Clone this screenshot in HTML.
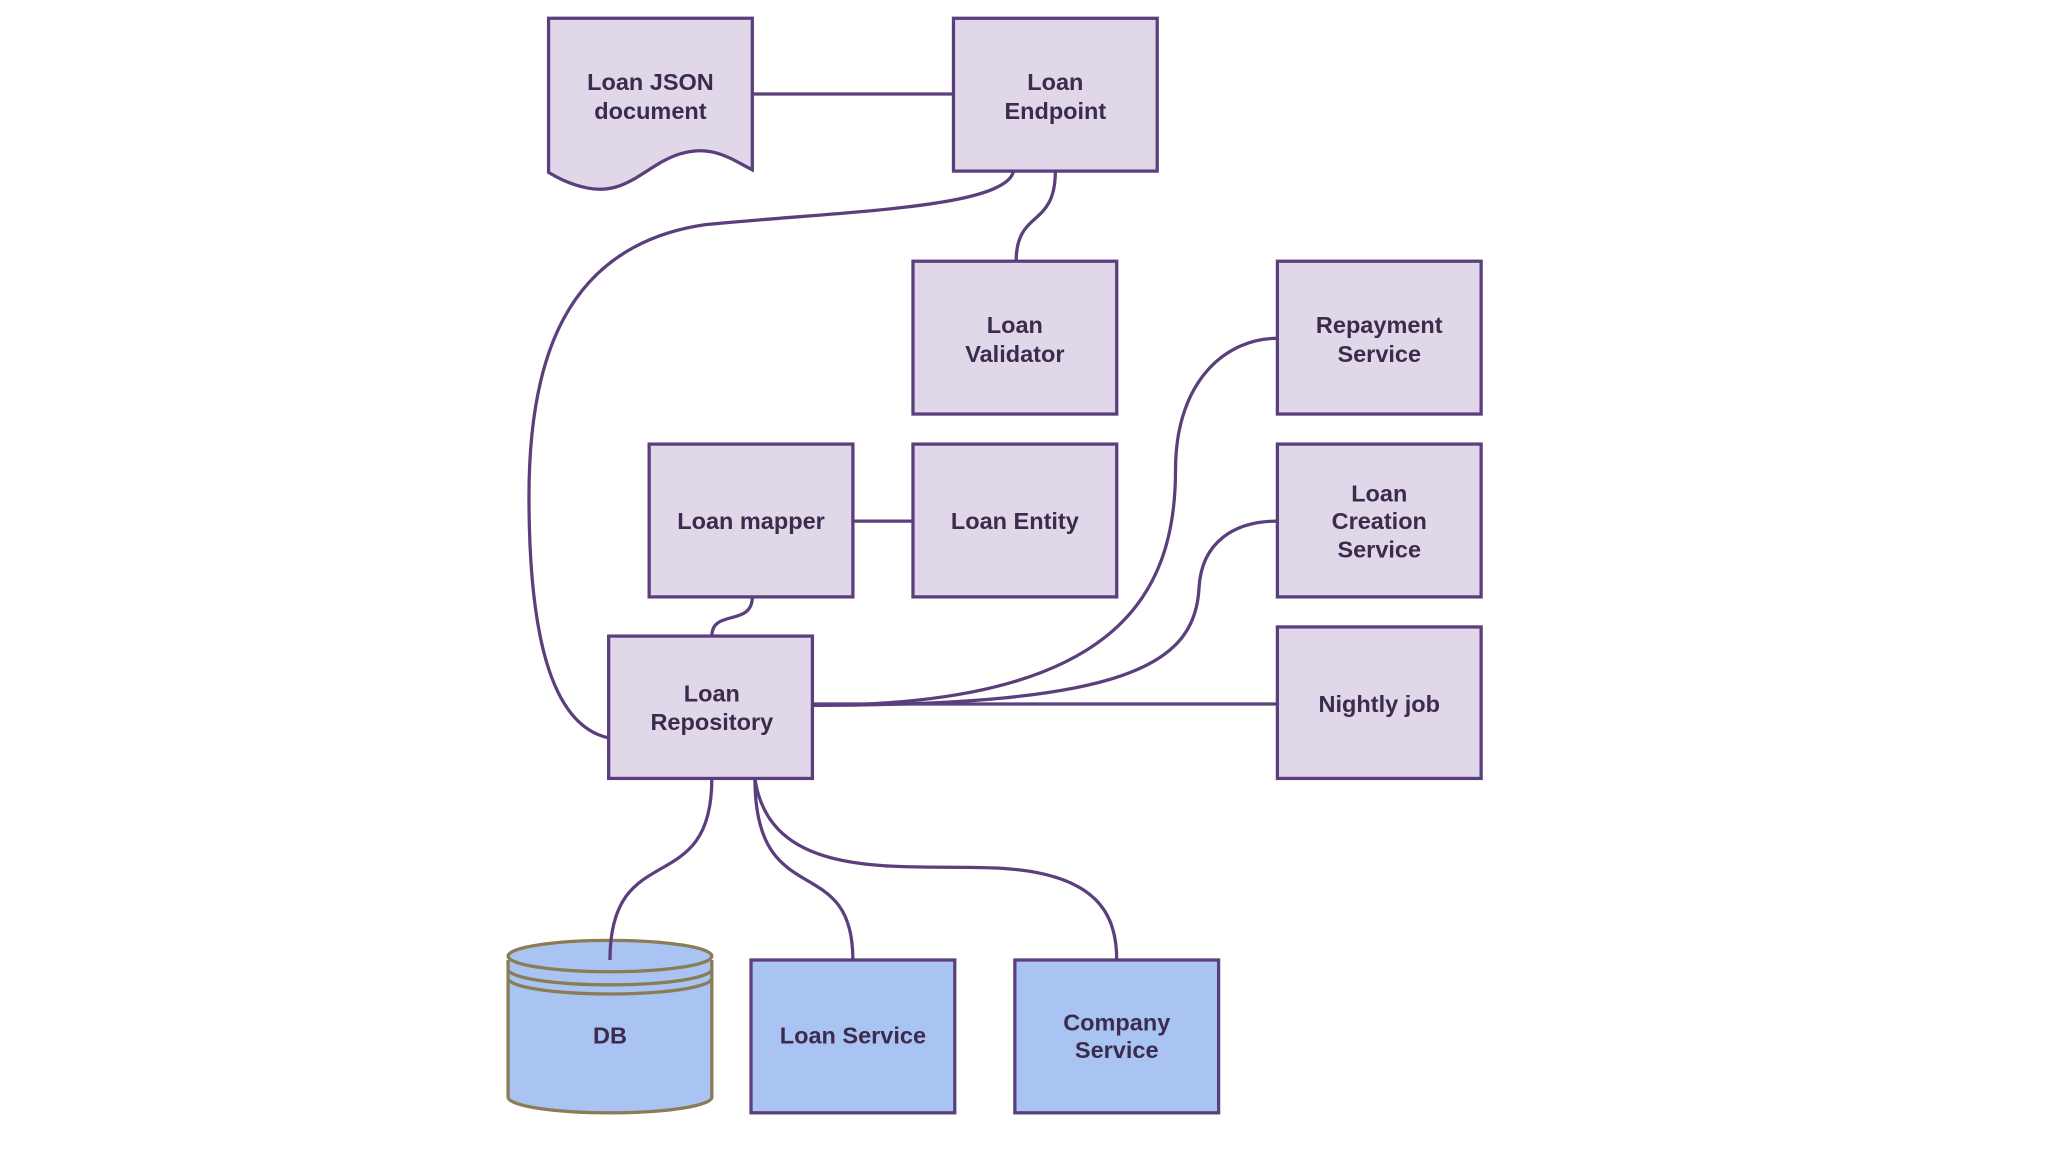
<!DOCTYPE html>
<html><head><meta charset="utf-8"><style>
html,body{margin:0;padding:0;background:#fff;}
svg{display:block;}
text{font-family:"Liberation Sans",sans-serif;font-weight:bold;font-size:18px;fill:#3b2c4d;text-anchor:middle;}
</style></head><body>
<svg width="2048" height="1152" viewBox="0 0 1568 882" xmlns="http://www.w3.org/2000/svg">
<rect width="1568" height="882" fill="#fff"/>
<g fill="none" stroke="#5b3f7c" stroke-width="2.5">
<path d="M576,72 H730"/>
<path d="M776,131 C770,160 640,162 540,172 C430,188 405,280 405,380 C405,480 420,555 466,565"/>
<path d="M808,131 C808,175 778,160 778,200"/>
<path d="M653,399 H699"/>
<path d="M576,457 C576,480 545,466 545,487"/>
<path d="M622,540 C850,540 900,460 900,360 C900,290 940,259 978,259"/>
<path d="M622,540 C860,540 915,510 918,450 C920,415 945,399 978,399"/>
<path d="M622,539 H978"/>
<path d="M578,596 C578,700 653,650 653,735"/>
<path d="M578,596 C590,680 700,660 770,665 C840,670 855,700 855,735"/>
</g>
<g fill="#e0d7e9" stroke="#5b3f7c" stroke-width="2.5">
<path d="M420,14 H576 V130 C560,122 545,110 520,118 C495,126 480,150 450,144 C435,141 425,135 420,132 Z"/>
<rect x="730" y="14" width="156" height="117"/>
<rect x="699" y="200" width="156" height="117"/>
<rect x="978" y="200" width="156" height="117"/>
<rect x="497" y="340" width="156" height="117"/>
<rect x="699" y="340" width="156" height="117"/>
<rect x="978" y="340" width="156" height="117"/>
<rect x="466" y="487" width="156" height="109"/>
<rect x="978" y="480" width="156" height="116"/>
</g>
<g fill="#a9c4f2" stroke="#5b3f7c" stroke-width="2.5">
<rect x="575" y="735" width="156" height="117"/>
<rect x="777" y="735" width="156" height="117"/>
</g>
<g stroke="#8a7c55" stroke-width="2.5" fill="#a9c4f2">
<path d="M389,735 V840 A78,12 0 0 0 545,840 V735"/>
<ellipse cx="467" cy="732" rx="78" ry="12"/>
<path d="M389,742 A78,12 0 0 0 545,742 M389,749 A78,12 0 0 0 545,749" fill="none"/>
</g>
<path d="M545,596 C545,690 467,640 467,735" stroke="#5b3f7c" stroke-width="2.5" fill="none"/>
<text x="498" y="69">Loan JSON</text><text x="498" y="91">document</text>
<text x="808" y="69">Loan</text><text x="808" y="91">Endpoint</text>
<text x="777" y="255">Loan</text><text x="777" y="277">Validator</text>
<text x="1056" y="255">Repayment</text><text x="1056" y="277">Service</text>
<text x="575" y="405">Loan mapper</text>
<text x="777" y="405">Loan Entity</text>
<text x="1056" y="384">Loan</text><text x="1056" y="405">Creation</text><text x="1056" y="427">Service</text>
<text x="545" y="537">Loan</text><text x="545" y="559">Repository</text>
<text x="1056" y="545">Nightly job</text>
<text x="467" y="799">DB</text>
<text x="653" y="799">Loan Service</text>
<text x="855" y="789">Company</text><text x="855" y="810">Service</text>
</svg>
</body></html>
